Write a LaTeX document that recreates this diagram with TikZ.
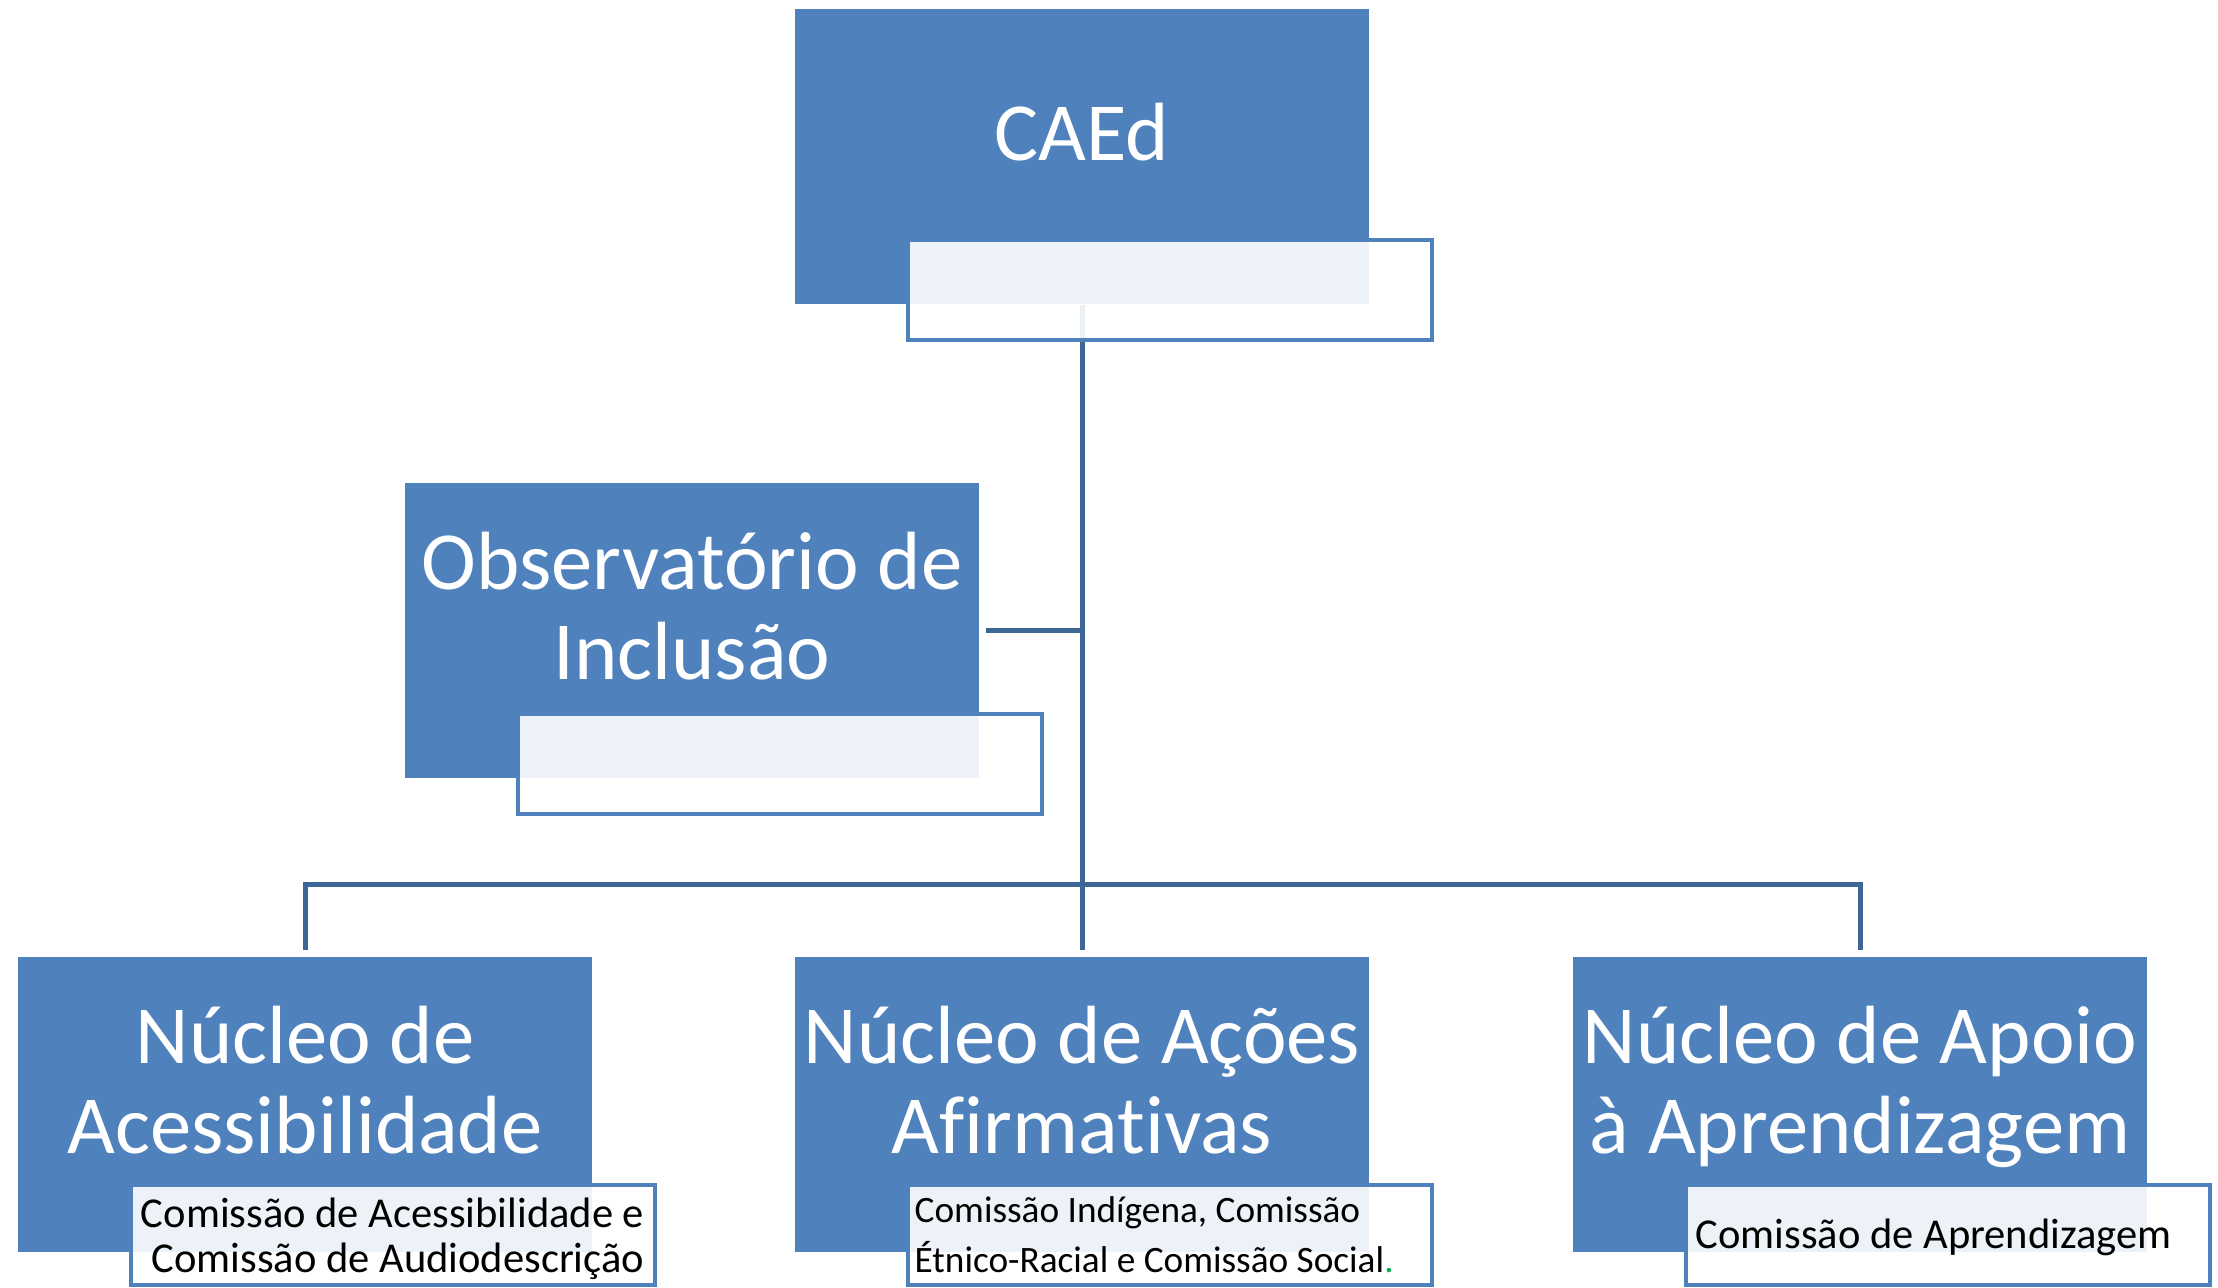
\documentclass[tikz,border=0pt]{standalone}
\usepackage{fontspec}
\setmainfont{Carlito}[Ligatures=NoCommon]
\definecolor{boxblue}{HTML}{4F81BD}
\definecolor{linkblue}{HTML}{3C6696}
\definecolor{okgreen}{HTML}{00B050}
\pgfdeclarelayer{bg}
\pgfsetlayers{bg,main}
\begin{document}
\begin{tikzpicture}[x=0.01cm,y=-0.01cm,
  mainbox/.style={rectangle, fill=boxblue, draw=none, minimum width=5.74cm, minimum height=2.95cm, inner sep=0pt},
  subbox/.style={rectangle, fill=white, fill opacity=0.9, draw=boxblue, draw opacity=1, line width=1.14pt, minimum width=5.24cm, minimum height=1.0cm, inner sep=0pt},
  bigtxt/.style={text=white, align=center, inner sep=0pt, font=\fontsize{23.5pt}{25.6pt}\selectfont, anchor=base},
  smalltxt/.style={text=black, inner sep=0pt, font=\fontsize{12.1pt}{12.8pt}\selectfont},
  conn/.style={draw=linkblue, line width=1.42pt},
]
\useasboundingbox (0,0) rectangle (2218,1287);
% main boxes
\node[mainbox] (caed) at (1082,156.5) {};
\node[mainbox] (obs)  at (692,630.5) {};
\node[mainbox] (nacc) at (305,1104.5) {};
\node[mainbox] (nmid) at (1082,1104.5) {};
\node[mainbox] (napo) at (1860,1104.5) {};
% connectors
\coordinate (bus) at (1082,884);
\begin{pgfonlayer}{bg}
\draw[conn, shorten >=1.7pt] (caed.south) -- (nmid.north);
\draw[conn, shorten <=1.7pt] (obs.east) -- (obs.east -| caed.south);
\draw[conn, shorten <=1.7pt, shorten >=1.7pt] (nacc.north) -- (nacc.north |- bus) -- (napo.north |- bus) -- (napo.north);
\end{pgfonlayer}
% sub boxes
\node[subbox] (caedsub) at (1170,290) {};
\node[subbox] (obssub)  at (780,764) {};
\node[subbox] (naccsub) at (393,1235) {};
\node[subbox] (nmidsub) at (1170,1235) {};
\node[subbox] (naposub) at (1948,1235) {};
% main texts (anchor base = last line)
\node[bigtxt] (caedtxt) at (1082,160.5) {CAEd};
\node[bigtxt] (obstxt)  at (692,679.5) {Observatório de\\Inclusão};
\node[bigtxt] (nacctxt) at (305,1153.5) {Núcleo de\\Acessibilidade};
\node[bigtxt] (nmidtxt) at (1082,1153.5) {Núcleo de Ações\\Afirmativas};
\node[bigtxt] (napotxt) at (1860,1153.5) {Núcleo de Apoio\\à Aprendizagem};
% sub texts
\node[smalltxt, align=right, anchor=base east] (naccsubtxt) at (645,1272) {Comissão de Acessibilidade e\\Comissão de Audiodescrição};
\node[smalltxt, align=left, anchor=base west, font=\fontsize{10.6pt}{14.2pt}\selectfont] (nmidsubtxt) at (914,1272) {Comissão Indígena, Comissão\\Étnico-Racial e Comissão Social{\color{okgreen}.}};
\node[smalltxt, anchor=base west] (naposubtxt) at (1695,1248) {Comissão de Aprendizagem};
\end{tikzpicture}
\end{document}
